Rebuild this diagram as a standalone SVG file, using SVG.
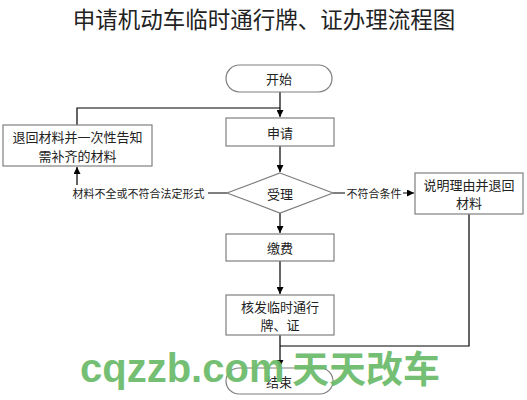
<svg xmlns="http://www.w3.org/2000/svg" width="527" height="400" viewBox="0 0 527 400">
<defs>
<marker id="arr" viewBox="0 0 10 10" refX="10" refY="5" markerWidth="7" markerHeight="7" orient="auto" markerUnits="userSpaceOnUse">
<path d="M0,0 L10,5 L0,10 z" fill="#000"/>
</marker>
<style>
.box{fill:#fff;stroke:#7f7f7f;stroke-width:1.2}
.t{font-family:"Noto Sans CJK SC","Liberation Sans",sans-serif;font-size:13px;fill:#222;text-anchor:middle;dominant-baseline:central}
.lbl{font-family:"Noto Sans CJK SC","Liberation Sans",sans-serif;font-size:11px;fill:#222;text-anchor:middle;dominant-baseline:central}
.ln{fill:none;stroke:#000;stroke-width:1.2}
</style>
</defs>
<rect width="527" height="400" fill="#fff"/>
<text x="264" y="18" font-family="'Noto Sans CJK SC',sans-serif" font-size="22.5" fill="#222" text-anchor="middle" dominant-baseline="central">申请机动车临时通行牌、证办理流程图</text>
<g id="connectors">
<path class="ln" d="M280,92 V117" marker-end="url(#arr)"/>
<path class="ln" d="M77,125 V108 H280"/>
<path class="ln" d="M280,146 V172" marker-end="url(#arr)"/>
<path class="ln" d="M227,193 H77 V167" marker-end="url(#arr)"/>
<path class="ln" d="M333,193 H414" marker-end="url(#arr)"/>
<path class="ln" d="M280,213 V233" marker-end="url(#arr)"/>
<path class="ln" d="M280,261 V294" marker-end="url(#arr)"/>
<path class="ln" d="M280,335 V367" marker-end="url(#arr)"/>
<path class="ln" d="M469,214 V346 H280"/>
<rect x="69" y="185" width="139" height="16" fill="#fff"/>
<text class="lbl" x="138.5" y="193">材料不全或不符合法定形式</text>
<rect x="345" y="185" width="58" height="16" fill="#fff"/>
<text class="lbl" x="374" y="193">不符合条件</text>
</g>
<g id="start">
<rect class="box" x="226" y="65" width="106" height="27" rx="13.5"/>
<text class="t" x="279" y="78.5">开始</text>
</g>
<g id="apply">
<rect class="box" x="226" y="118" width="108" height="28"/>
<text class="t" x="280" y="132">申请</text>
</g>
<g id="accept">
<polygon class="box" points="280,173 333,193 280,213 227,193"/>
<text class="t" x="280" y="193">受理</text>
</g>
<g id="return">
<rect class="box" x="3" y="125" width="149" height="41"/>
<text class="t" x="77.5" y="136">退回材料并一次性告知</text>
<text class="t" x="77.5" y="155">需补齐的材料</text>
</g>
<g id="explain">
<rect class="box" x="415" y="173" width="108" height="41"/>
<text class="t" x="469" y="184">说明理由并退回</text>
<text class="t" x="469" y="202">材料</text>
</g>
<g id="pay">
<rect class="box" x="226" y="234" width="108" height="27"/>
<text class="t" x="280" y="247.5">缴费</text>
</g>
<g id="issue">
<rect class="box" x="226" y="295" width="108" height="40"/>
<text class="t" x="280" y="306">核发临时通行</text>
<text class="t" x="280" y="324">牌、证</text>
</g>
<g id="end">
<rect class="box" x="226" y="368" width="107" height="26" rx="13"/>
<text class="t" x="279" y="381">结束</text>
</g>
<g id="watermark" fill="#6cbb6c" fill-opacity="0.95">
<text x="80" y="382" font-family="'Liberation Sans',sans-serif" font-weight="bold" font-size="40">cqzzb.com</text>
<text x="292" y="383" font-family="'Noto Sans CJK SC',sans-serif" font-weight="bold" font-size="37">天天改车</text>
</g>
</svg>
